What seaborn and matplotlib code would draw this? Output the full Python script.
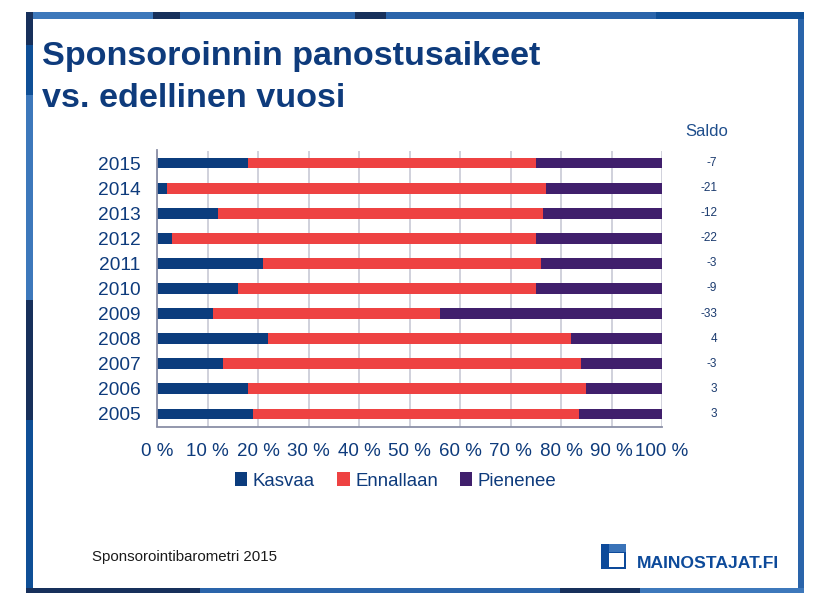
import matplotlib
matplotlib.use("Agg")
import matplotlib.pyplot as plt
import pandas as pd
import seaborn as sns
from matplotlib.patches import Patch, Rectangle
from matplotlib.ticker import FuncFormatter, MultipleLocator

# data (percent of respondents)
years = ["2015", "2014", "2013", "2012", "2011", "2010", "2009", "2008", "2007", "2006", "2005"]
kasvaa = [18, 2, 12, 3, 21, 16, 11, 22, 13, 18, 19]
ennallaan = [57, 75, 64.5, 72, 55, 59, 45, 60, 71, 67, 64.5]
pienenee = [25, 23, 23.5, 25, 24, 25, 44, 18, 16, 15, 16.5]
saldo = [-7, -21, -12, -22, -3, -9, -33, 4, -3, 3, 3]
series_names = ["Kasvaa", "Ennallaan", "Pienenee"]
series_colors = ["#0b3c7d", "#ee4242", "#401f6c"]
x_ticks = list(range(0, 101, 10))

TEXT_BLUE = "#0e3b7c"
W, H = 826, 612

sns.set_style("white")
plt.rcParams["font.family"] = ["Liberation Sans", "DejaVu Sans"]

fig = plt.figure(figsize=(W / 100, H / 100), dpi=100)


def px_rect(x0, y0, x1, y1, color):
    # rectangle in pixel coords measured from the top-left corner
    fig.add_artist(Rectangle((x0 / W, 1 - y1 / H), (x1 - x0) / W, (y1 - y0) / H,
                             transform=fig.transFigure, facecolor=color,
                             edgecolor="none", zorder=0))


# blue frame around the slide
px_rect(26, 12, 804, 593, "#2a64aa")
for x0, x1, c in [(26, 153, "#3d78bb"), (153, 180, "#17305b"), (355, 386, "#17305b"),
                  (656, 804, "#0f4f96")]:
    px_rect(x0, 12, x1, 19, c)
for y0, y1, c in [(12, 45, "#17305b"), (45, 95, "#0f4f96"), (95, 300, "#3d78bb"),
                  (300, 420, "#17305b"), (420, 593, "#0f4f96")]:
    px_rect(26, y0, 33, y1, c)
for x0, x1, c in [(26, 200, "#17305b"), (560, 640, "#17305b"), (640, 804, "#3d78bb")]:
    px_rect(x0, 588, x1, 593, c)
px_rect(33, 19, 798, 588, "white")

fig.text(42 / W, 1 - 65 / H, "Sponsoroinnin panostusaikeet", fontsize=24.6,
         fontweight="bold", color=TEXT_BLUE, va="baseline")
fig.text(42 / W, 1 - 107 / H, "vs. edellinen vuosi", fontsize=24.6,
         fontweight="bold", color=TEXT_BLUE, va="baseline")

ax = fig.add_axes([157 / W, 1 - 426.5 / H, 505 / W, 276 / H])

df = pd.DataFrame({"vuosi": years, "Kasvaa": kasvaa,
                   "Ennallaan": ennallaan, "Pienenee": pienenee})
df["c1"] = df["Kasvaa"]
df["c2"] = df["c1"] + df["Ennallaan"]
df["c3"] = df["c2"] + df["Pienenee"]

for col, color in zip(["c3", "c2", "c1"], reversed(series_colors)):
    sns.barplot(data=df, x=col, y="vuosi", orient="h", order=years, color=color,
                width=0.43, saturation=1, linewidth=0, ax=ax)

ax.set_xlim(0, 100)
ax.set_ylim(len(years) - 0.5, -0.5)
ax.set_xlabel("")
ax.set_ylabel("")
ax.set_xticks(x_ticks)
ax.xaxis.set_major_formatter(FuncFormatter(lambda v, p: f"{v:.0f} %"))
ax.xaxis.set_minor_locator(MultipleLocator(4))
ax.set_yticks([i - 0.5 for i in range(len(years) + 1)], minor=True)

ax.grid(axis="x", color="#c8cad6", linewidth=1.2)
ax.grid(axis="y", visible=False)
ax.set_axisbelow(True)
for side in ["top", "right"]:
    ax.spines[side].set_visible(False)
for side in ["left", "bottom"]:
    ax.spines[side].set_color("#8a8fa6")
    ax.spines[side].set_linewidth(1.3)

ax.tick_params(axis="x", which="major", length=5, width=1.2, color="#8a8fa6",
               labelsize=13.5, labelcolor=TEXT_BLUE, pad=7)
ax.tick_params(axis="x", which="minor", length=3, width=1, color="#8a8fa6")
ax.tick_params(axis="y", which="major", length=0, labelsize=13.8,
               labelcolor=TEXT_BLUE, pad=12)
ax.tick_params(axis="y", which="minor", length=5, width=1.2, color="#8a8fa6")

# saldo column on the right
fig.text(707 / W, 1 - 132 / H, "Saldo", fontsize=12, color="#1f4e8c",
         ha="center", va="center")
for i, s in enumerate(saldo):
    ax.text(1.109, i, str(s), transform=ax.get_yaxis_transform(), ha="right",
            va="center", fontsize=8.5, color="#1a3a6e")

handles = [Patch(facecolor=c, edgecolor="none") for c in series_colors]
fig.legend(handles, series_names, loc="center", bbox_to_anchor=(396 / W, 1 - 481 / H),
           ncol=3, frameon=False, handlelength=0.65, handleheight=0.7,
           handletextpad=0.3, columnspacing=1.2, fontsize=13.4, labelcolor=TEXT_BLUE)

fig.text(92 / W, 1 - 557 / H, "Sponsorointibarometri 2015", fontsize=10.8,
         color="#1a1a1a", va="center")

# MAINOSTAJAT.FI logo
px_rect(601, 544, 626, 569, "#0d4a9a")
px_rect(609, 544, 626, 552, "#3a73b8")
px_rect(609, 553, 624, 567, "white")
fig.text(637 / W, 1 - 564 / H, "MAINOSTAJAT.FI", fontsize=12.6, fontweight="bold",
         color="#0d4a9a", va="center")

fig.savefig("out.png", dpi=100)
